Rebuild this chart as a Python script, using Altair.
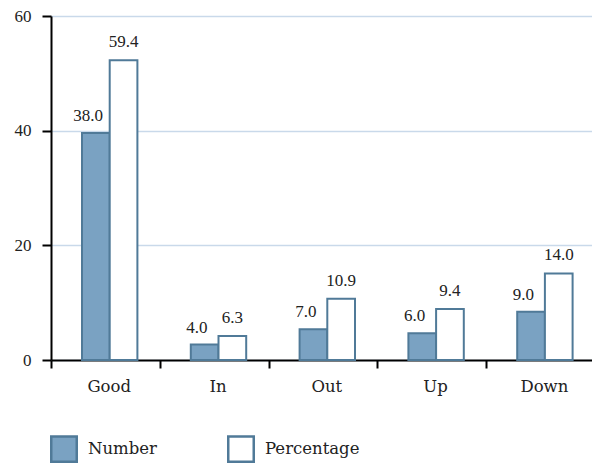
import altair as alt
import pandas as pd

categories = ["Good", "In", "Out", "Up", "Down"]
series = ["Number", "Percentage"]
number_bar = [39.6, 2.7, 5.35, 4.65, 8.4]
percent_bar = [52.3, 4.2, 10.7, 8.9, 15.1]
number_label = ["38.0", "4.0", "7.0", "6.0", "9.0"]
percent_label = ["59.4", "6.3", "10.9", "9.4", "14.0"]
y_ticks = [0, 20, 40, 60]

rows = []
for c, v, l in zip(categories, number_bar, number_label):
    rows.append({"category": c, "series": "Number", "value": v, "label": l})
for c, v, l in zip(categories, percent_bar, percent_label):
    rows.append({"category": c, "series": "Percentage", "value": v, "label": l})
df = pd.DataFrame(rows)

STROKE = "#507a98"
FILL = "#7aa2c2"
TXT = "#222222"

x_enc = alt.X(
    "category:N",
    sort=categories,
    scale=alt.Scale(range=[0, 544], paddingInner=0, paddingOuter=0),
    axis=alt.Axis(
        title=None, labelAngle=0, tickBand="extent", tickSize=8, tickWidth=2,
        tickColor="black", domainColor="black", domainWidth=2,
        labelFont="DejaVu Serif", labelFontSize=16.5, labelColor=TXT,
        labelPadding=10, labelOffset=3.3, grid=False,
    ),
)
xoff_enc = alt.XOffset(
    "series:N", sort=series,
    scale=alt.Scale(range=[31, 86.4], paddingInner=0, paddingOuter=0),
)
y_enc = alt.Y(
    "value:Q",
    scale=alt.Scale(domain=[0, 60]),
    axis=alt.Axis(
        title=None, values=y_ticks, grid=True, gridColor="#c9d9ea", gridWidth=1.5,
        domainColor="black", domainWidth=2, tickColor="black", tickWidth=2,
        tickSize=9, labelPadding=11, labelFont="Liberation Serif",
        labelFontSize=17, labelColor=TXT,
    ),
)

bars = alt.Chart(df).mark_bar(stroke=STROKE, strokeWidth=2).encode(
    x=x_enc,
    xOffset=xoff_enc,
    y=y_enc,
    fill=alt.Fill(
        "series:N",
        sort=series,
        scale=alt.Scale(domain=series, range=[FILL, "#ffffff"]),
        legend=alt.Legend(
            title=None, orient="none", legendX=-1, legendY=419,
            direction="horizontal", symbolType="square", symbolSize=650,
            symbolStrokeColor=STROKE, symbolStrokeWidth=2.5,
            labelFont="DejaVu Serif", labelFontSize=16.5, labelColor=TXT,
            labelOffset=10, columnPadding=66, padding=0,
        ),
    ),
)

num_text = alt.Chart(df).transform_filter(alt.datum.series == "Number").mark_text(
    dx=-7.7, dy=-12, baseline="alphabetic", font="Liberation Serif",
    fontSize=17, color=TXT,
).encode(x=x_enc, xOffset=xoff_enc, y=y_enc, text="label:N")

pct_text = alt.Chart(df).transform_filter(alt.datum.series == "Percentage").mark_text(
    dx=0, dy=-13, baseline="alphabetic", font="Liberation Serif",
    fontSize=17, color=TXT,
).encode(x=x_enc, xOffset=xoff_enc, y=y_enc, text="label:N")

chart = alt.layer(bars, num_text, pct_text).properties(
    width=541, height=344,
    autosize=alt.AutoSizeParams(type="none"),
    padding={"left": 51, "top": 16, "right": 0, "bottom": 104},
).configure_view(stroke=None).configure(background="white")

chart.save("out.html", embed_options={"renderer": "svg", "actions": False})
